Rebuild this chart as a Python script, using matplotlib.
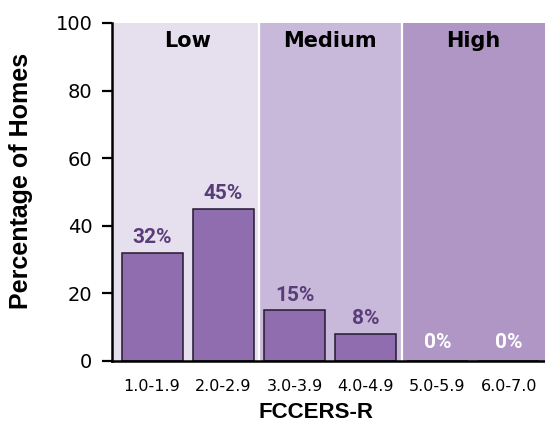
import matplotlib
matplotlib.use("Agg")
import matplotlib.pyplot as plt
import numpy as np

categories = ["1.0-1.9", "2.0-2.9", "3.0-3.9", "4.0-4.9", "5.0-5.9", "6.0-7.0"]
values = [32, 45, 15, 8, 0, 0]
bar_labels = ["32%", "45%", "15%", "8%", "0%", "0%"]
bands = ["Low", "Medium", "High"]
band_colors = ["#E6E0EE", "#C8B9DA", "#AF96C4"]
yticks = [0, 20, 40, 60, 80, 100]

fig = plt.figure(figsize=(5.45, 4.28), dpi=100)
ax = fig.add_axes([112/545, 67/428, 433/545, 338/428])

x = np.arange(len(categories))
ax.set_xlim(-0.561, 5.51)
ax.set_ylim(0, 100)

# background bands: each covers two categories
for i, (name, col) in enumerate(zip(bands, band_colors)):
    lo = 2*i - 0.5 if i > 0 else -0.561
    hi = 2*i + 1.5 if i < 2 else 5.51
    ax.axvspan(lo, hi, color=col, zorder=0, lw=0)
    ax.text((2*i - 0.5 + 2*i + 1.5)/2, 93, name, ha="center", va="baseline",
            fontsize=15, fontweight="bold", family="DejaVu Sans", color="black", zorder=5)
for b in [1.5, 3.5]:
    ax.axvline(b, color="white", lw=1.6, zorder=1)

ax.bar(x, values, width=0.855, color="#8F6DAE", edgecolor="#231A2E", linewidth=1.1, zorder=3)

for xi, v, lab in zip(x, values, bar_labels):
    col = "white" if v == 0 else "#5A3D78"
    ax.annotate(lab, (xi, v), xytext=(0, 7 if v > 0 else 9.5), textcoords="offset points",
                ha="center", va="baseline", fontsize=15, fontweight="bold",
                family=["Roboto", "DejaVu Sans"], color=col, zorder=5)

ax.set_xticks(x)
ax.set_xticklabels(categories, fontsize=11.5, family="DejaVu Sans")
ax.tick_params(axis="x", length=0, pad=13)
ax.set_yticks(yticks)
ax.set_yticklabels([str(t) for t in yticks], fontsize=14, family="DejaVu Sans")
ax.tick_params(axis="y", length=7.2, width=1.6, pad=7)

for s in ["top", "right"]:
    ax.spines[s].set_visible(False)
for s in ["left", "bottom"]:
    ax.spines[s].set_linewidth(1.8)
    ax.spines[s].set_zorder(6)

fig.text(21/545, 1 - 181/428, "Percentage of Homes", rotation=90, ha="center", va="center",
         fontsize=18, fontweight="bold", family=["Liberation Sans", "DejaVu Sans"])
fig.text((257+375)/2/545, 1 - 412/428, "FCCERS-R", ha="center", va="center",
         fontsize=16, fontweight="bold", family=["Liberation Sans", "DejaVu Sans"])

fig.savefig("out.png", dpi=100)
